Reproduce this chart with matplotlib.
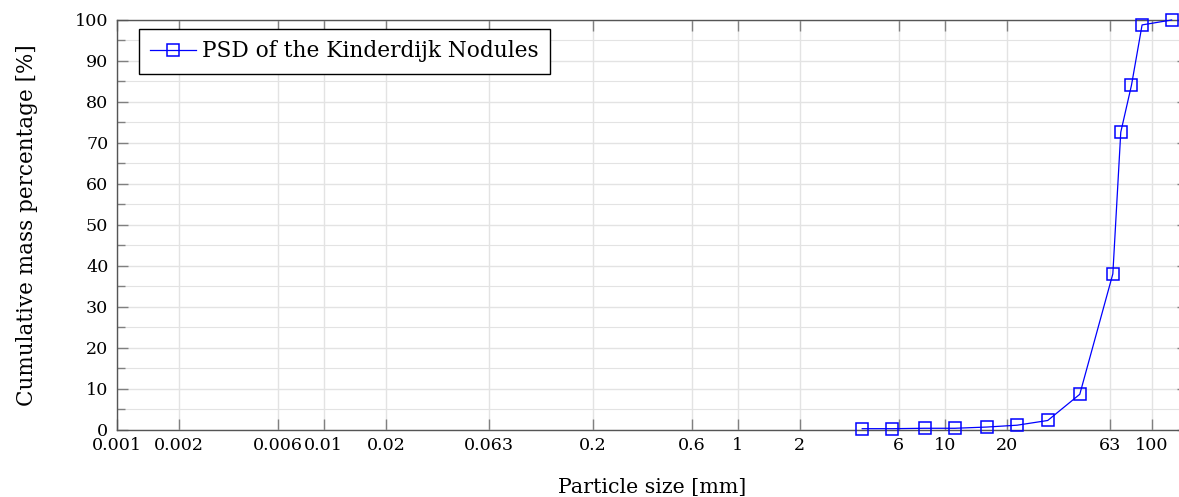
import numpy as np
import matplotlib.pyplot as plt
from matplotlib.ticker import FixedLocator, FixedFormatter, NullLocator, MultipleLocator

# sieve sizes [mm] and cumulative passing [%]
size_mm = [4, 5.6, 8, 11.2, 16, 22.4, 31.5, 45, 65, 71, 80, 90, 125]
passing = [0.2, 0.2, 0.3, 0.3, 0.6, 1.05, 2.2, 8.6, 38.0, 72.6, 84.1, 98.8, 100.0]

xtick_vals = [0.001, 0.002, 0.006, 0.01, 0.02, 0.063, 0.2, 0.6, 1, 2, 6, 10, 20, 63, 100]
xtick_labels = ["0.001", "0.002", "0.006", "0.01", "0.02", "0.063", "0.2", "0.6",
                "1", "2", "6", "10", "20", "63", "100"]

plt.rcParams["font.family"] = ["DejaVu Serif"]

W, H = 1179, 497
fig = plt.figure(figsize=(W / 100, H / 100), dpi=100)
left, right, top, bottom = 116.7, 1188, 20, 429.5
ax = fig.add_axes([left / W, (H - bottom) / H, (right - left) / W, (bottom - top) / H])

ax.plot(size_mm, passing, color="#0000ff", lw=0.9, marker="s", ms=8,
        mfc="none", mec="#0000ff", mew=1.1, label="PSD of the Kinderdijk Nodules",
        zorder=3, clip_on=False)

ax.set_xscale("log")
ax.set_xlim(0.001, 150)
ax.set_ylim(0, 100)

ax.xaxis.set_major_locator(FixedLocator(xtick_vals))
ax.xaxis.set_major_formatter(FixedFormatter(xtick_labels))
ax.xaxis.set_minor_locator(NullLocator())
ax.yaxis.set_major_locator(MultipleLocator(10))
ax.yaxis.set_minor_locator(MultipleLocator(5))

ax.grid(True, which="major", color="#e3e3e3", lw=1.0, zorder=0)
ax.grid(True, which="minor", axis="y", color="#e3e3e3", lw=0.8, zorder=0)
ax.set_axisbelow(True)

ax.tick_params(which="both", direction="in", top=True, right=True, color="#808080", width=1.0)
ax.tick_params(which="major", length=8, labelsize=12.6, labelcolor="black")
ax.tick_params(which="minor", length=5.5)
ax.tick_params(axis="x", pad=5.5)
ax.tick_params(axis="y", pad=6)

for s in ax.spines.values():
    s.set_color("#555555")
    s.set_linewidth(1.0)

ax.set_xlabel("Particle size [mm]", fontsize=14.8)
ax.set_ylabel("Cumulative mass percentage [%]", fontsize=15.5)
axw = right - left
axh = bottom - top
ax.xaxis.set_label_coords(0.5, -(477.5 - bottom) / axh)
ax.yaxis.set_label_coords((38 - left) / axw, 0.5)

leg = ax.legend(loc="upper left", bbox_to_anchor=((139 - left) / axw, 1 - 9 / axh),
                borderaxespad=0, fancybox=False, framealpha=1, edgecolor="black",
                fontsize=15.6, handlelength=2.1, handletextpad=0.3, borderpad=0.52)
leg.get_frame().set_linewidth(1.0)

fig.savefig("out.png", dpi=100)
